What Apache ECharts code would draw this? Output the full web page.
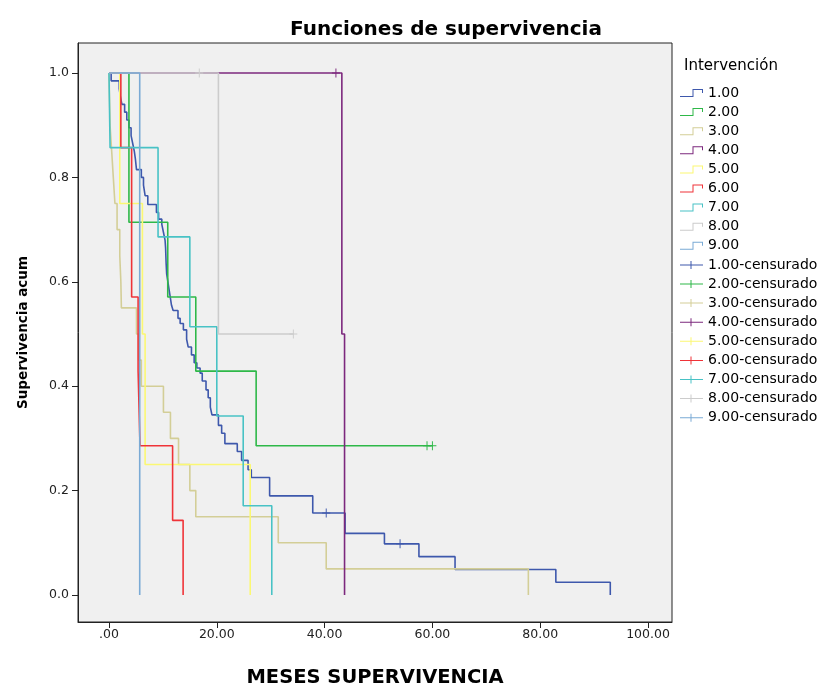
<!DOCTYPE html>
<html><head><meta charset="utf-8">
<script src="https://cdn.jsdelivr.net/npm/echarts@6/dist/echarts.min.js"></script>
<style>html,body{margin:0;padding:0;background:#fff}#c{width:827px;height:686px}</style>
</head><body><div id="c"></div>
<script>
// ---- data ----
const groupNames = ['1.00','2.00','3.00','4.00','5.00','6.00','7.00','8.00','9.00'];
const groupColors = ['#3E58AC','#2EB848','#D3CE97','#7C287D','#FBF873','#EF3338','#48C2C5','#CCCCCC','#7AAAD5'];

const g1Times = [0.4,1.9,2.1,2.4,2.9,3.3,3.7,4.1,4.4,4.7,4.9,5.1,6.0,6.4,6.7,7.2,8.8,9.2,9.8,10.1,10.4,10.5,10.6,10.7,11.0,11.3,11.6,11.9,12.8,13.2,13.8,14.4,14.7,15.3,15.8,16.3,16.9,17.3,18.0,18.4,18.8,19.1,20.3,20.9,21.5,23.8,24.6,25.8,26.4,29.8,37.8,43.8,51.1,57.5,64.2,82.9,93.0];
const g1Surv  = [0.985,0.970,0.955,0.940,0.925,0.910,0.895,0.880,0.865,0.850,0.835,0.815,0.800,0.785,0.765,0.748,0.733,0.720,0.710,0.695,0.680,0.665,0.635,0.615,0.595,0.575,0.555,0.545,0.530,0.520,0.508,0.490,0.475,0.460,0.445,0.435,0.425,0.410,0.393,0.378,0.360,0.345,0.325,0.310,0.290,0.275,0.258,0.240,0.225,0.190,0.157,0.118,0.098,0.0735,0.049,0.0245,0];
const g1Cens  = [[40.3,0.157],[54.0,0.098]];

const g2Times = [3.7,10.9,16.1,27.3];
const g2Surv  = [0.714,0.571,0.429,0.286];
const g2Cens  = [[59.0,0.286],[60.0,0.286]];

const g3Times = [0.2,0.5,0.8,1.1,1.5,2.0,2.2,2.3,5.1,5.5,6.0,10.1,11.4,12.9,15.0,16.1,31.4,40.3,77.8];
const g3Surv  = [0.90,0.85,0.80,0.75,0.70,0.65,0.60,0.55,0.50,0.45,0.40,0.35,0.30,0.25,0.20,0.15,0.10,0.05,0];
const g3Cens  = [];

const g4Times = [43.2,43.7];
const g4Surv  = [0.5,0];
const g4Cens  = [[42.1,1.0]];

const g5Times = [2.0,6.2,6.7,26.2];
const g5Surv  = [0.75,0.5,0.25,0];
const g5Cens  = [];

const g6Times = [2.2,4.2,5.4,5.75,11.8,13.75];
const g6Surv  = [0.857,0.571,0.429,0.286,0.143,0];
const g6Cens  = [];

const g7Times = [0.2,9.1,15.0,20.0,24.9,30.2];
const g7Surv  = [0.857,0.686,0.514,0.343,0.171,0];
const g7Cens  = [];

const g8Times = [20.3];
const g8Surv  = [0.5];
const g8Cens  = [[16.75,1.0],[34.2,0.5]];

const g9Times = [5.7];
const g9Surv  = [0];
const g9Cens  = [];

const xTicks = [0,20,40,60,80,100];
const yTicks = [0,0.2,0.4,0.6,0.8,1.0];

// ---- build ----
const allTimes = [g1Times,g2Times,g3Times,g4Times,g5Times,g6Times,g7Times,g8Times,g9Times];
const allSurv  = [g1Surv,g2Surv,g3Surv,g4Surv,g5Surv,g6Surv,g7Surv,g8Surv,g9Surv];
const allCens  = [g1Cens,g2Cens,g3Cens,g4Cens,g5Cens,g6Cens,g7Cens,g8Cens,g9Cens];

const FONT = 'DejaVu Sans';
const stepIcon = 'path://M0,7H12.5V0H23V4H22V1H13.5V8H0Z';
const censIcon = 'path://M0,3.5H10.5V0H11.5V3.5H23V4.5H11.5V8H10.5V4.5H0Z';
const crossSym = 'path://M4.4,0H5.6V10H4.4Z M0,4.5H10V5.5H0Z';

const series = [];
const legendData = [];
groupNames.forEach((n,i)=>{
  const data = [[0,1]];
  allTimes[i].forEach((t,k)=>data.push([t, allSurv[i][k]]));
  const last = data[data.length-1];
  allCens[i].forEach(c=>{ if (c[0] > last[0] && last[1] > 0) { data.push([c[0], last[1]]); } });
  series.push({
    name: n, type:'line', step:'end', data, symbol:'none', showSymbol:false,
    color: groupColors[i], itemStyle:{color: groupColors[i]},
    lineStyle:{color: groupColors[i], width:1.6}, silent:true, animation:false
  });
  legendData.push({name:n, icon: stepIcon});
});
groupNames.forEach((n,i)=>{
  series.push({
    name: n + '-censurado', type:'scatter', data: allCens[i],
    symbol: crossSym, symbolSize:[8,9],
    color: groupColors[i], itemStyle:{color: groupColors[i], opacity:1},
    silent:true, animation:false, z: 3
  });
  legendData.push({name: n + '-censurado', icon: censIcon});
});

const chart = echarts.init(document.getElementById('c'), null, {renderer:'canvas'});
chart.setOption({
  backgroundColor:'#ffffff',
  animation:false,
  title:[
    {text:'Funciones de supervivencia', left:290, top:20, padding:0,
     textStyle:{fontFamily:FONT, fontSize:20, fontWeight:'bold', color:'#000'}},
    {text:'Intervención', left:684, top:59, padding:0,
     textStyle:{fontFamily:FONT, fontSize:15, fontWeight:'normal', color:'#000'}}
  ],
  legend:{
    orient:'vertical', left:680, top:86, padding:0, itemWidth:23, itemHeight:8, itemGap:5.1,
    selectedMode:false, data: legendData, symbolKeepAspect:false,
    itemStyle:{borderWidth:0},
    textStyle:{fontFamily:FONT, fontSize:14, lineHeight:14, color:'#000'}
  },
  grid:{left:78, top:43, width:594, height:579, show:true, backgroundColor:'#F0F0F0',
        borderColor:'#222', borderWidth:1, containLabel:false, outerBoundsMode:'none'},
  xAxis:{
    type:'value', min:-5.75, max:104.45,
    name:'MESES SUPERVIVENCIA', nameLocation:'middle', nameGap:46,
    nameTextStyle:{fontFamily:FONT, fontSize:19.5, fontWeight:'bold', color:'#000'},
    axisLine:{show:true, onZero:false, lineStyle:{color:'#222', width:1}},
    axisTick:{show:true, length:6, customValues:xTicks, lineStyle:{color:'#222'}},
    axisLabel:{customValues:xTicks, fontFamily:FONT, fontSize:12.5, color:'#222', margin:6,
      formatter:v=> v===0 ? '.00' : v.toFixed(2)},
    splitLine:{show:false}
  },
  yAxis:{
    type:'value', min:-0.0517, max:1.0575,
    name:'Supervivencia acum', nameLocation:'middle', nameGap:48,
    nameTextStyle:{fontFamily:FONT, fontSize:13.5, fontWeight:'bold', color:'#000'},
    axisLine:{show:true, onZero:false, lineStyle:{color:'#222', width:1}},
    axisTick:{show:true, length:6, customValues:yTicks, lineStyle:{color:'#222'}},
    axisLabel:{customValues:yTicks, fontFamily:FONT, fontSize:12.5, color:'#222', margin:9,
      formatter:v=> v.toFixed(1)},
    splitLine:{show:false}
  },
  series
});
</script></body></html>
